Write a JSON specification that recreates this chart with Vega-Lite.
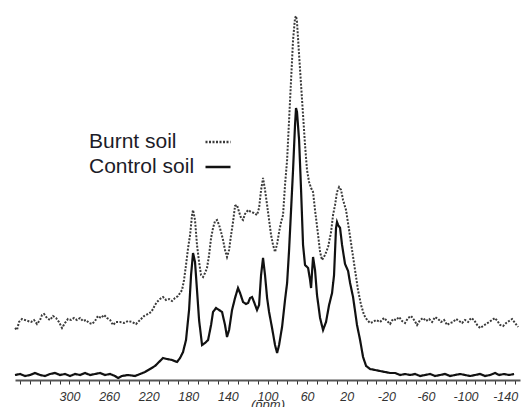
{
 "$schema": "https://vega.github.io/schema/vega-lite/v6.json",
 "width": 505,
 "height": 375,
 "autosize": {"type": "none"},
 "padding": {"left": 15, "top": 5, "right": 11, "bottom": 27},
 "config": {"view": {"stroke": null}, "font": "Liberation Sans"},
 "datasets": {
  "control": [
   [355.0,5],[350.0,6],[344.9,4],[339.8,5],[334.8,7],[329.7,5],[324.7,4],[319.6,6],[314.6,7],[309.5,5],[304.5,6],[299.4,4],[294.4,6],[289.3,5],[284.3,7],[279.2,5],[274.2,6],[269.1,7],[264.1,5],[259.0,6],[254.0,4],[250.9,2],[246.9,4],[240.9,5],[233.8,4],[228.7,6],[223.7,8],[218.6,11],[213.6,14],[210.6,17],[205.5,22],[201.5,21],[196.4,20],[191.4,18],[188.3,22],[185.3,28],[182.3,40],[179.2,70],[177.2,105],[175.2,127],[173.2,118],[171.2,90],[169.1,60],[166.1,35],[163.1,37],[160.0,40],[157.0,55],[155.0,68],[152.0,72],[148.9,70],[145.9,68],[142.9,55],[140.9,43],[138.8,50],[135.8,70],[132.8,82],[129.8,92],[127.7,87],[124.7,78],[121.7,76],[119.6,77],[117.6,82],[115.6,83],[113.6,78],[110.6,70],[108.5,75],[106.5,105],[104.5,122],[102.5,105],[100.4,82],[98.4,68],[95.4,52],[92.4,35],[90.3,27],[88.3,35],[85.3,53],[82.3,80],[80.2,97],[78.2,130],[76.2,170],[74.2,210],[72.2,255],[71.2,272],[70.2,268],[68.1,240],[66.1,190],[64.1,135],[62.1,115],[59.0,112],[57.0,100],[56.0,92],[55.0,108],[54.0,123],[52.0,110],[50.0,85],[46.9,62],[43.9,50],[40.9,58],[37.8,75],[34.8,87],[32.8,105],[30.8,152],[29.8,158],[28.7,155],[26.7,152],[24.7,135],[21.7,116],[18.6,109],[16.6,97],[13.6,83],[9.6,55],[6.5,40],[3.5,23],[0.4,14],[-3.6,11],[-8.6,10],[-13.7,9],[-18.7,8],[-23.8,7],[-28.8,7],[-33.9,5],[-38.9,6],[-44.0,5],[-49.0,6],[-54.1,4],[-59.1,5],[-64.2,6],[-69.2,4],[-74.3,5],[-79.3,6],[-84.4,4],[-89.4,5],[-94.5,6],[-99.5,5],[-104.6,4],[-109.6,5],[-114.7,6],[-119.7,4],[-124.8,5],[-129.8,7],[-133.9,5],[-138.9,6],[-144.0,5],[-149.0,6]
  ],
  "burnt": [
   [355.0,52],[353.0,50],[351.0,58],[347.9,61],[344.9,60],[341.9,59],[338.8,58],[335.8,60],[332.8,56],[329.7,60],[327.7,65],[325.7,66],[322.7,62],[319.6,60],[316.6,64],[313.6,62],[310.6,58],[307.5,52],[304.5,57],[301.5,61],[298.4,60],[295.4,62],[292.4,60],[289.3,62],[286.3,59],[283.3,60],[280.2,57],[277.2,56],[274.2,59],[271.2,64],[268.1,62],[265.1,65],[262.1,62],[259.0,60],[256.0,55],[253.0,58],[248.9,58],[244.9,57],[240.9,59],[236.8,58],[232.8,56],[228.7,60],[224.7,64],[220.7,66],[217.6,68],[215.6,71],[213.6,75],[211.6,78],[208.5,81],[205.5,83],[202.5,80],[199.4,81],[196.4,79],[193.4,82],[190.4,84],[188.3,87],[186.3,90],[184.3,100],[182.3,115],[180.2,132],[178.2,145],[176.2,165],[175.2,170],[173.2,160],[171.2,135],[169.1,118],[167.1,105],[165.1,103],[163.1,107],[161.1,112],[159.0,125],[157.0,142],[155.0,152],[153.0,159],[151.0,160],[148.9,155],[146.9,148],[144.9,140],[142.9,130],[140.9,123],[138.8,130],[136.8,145],[134.8,158],[132.8,174],[130.8,175],[128.7,168],[126.7,162],[124.7,160],[122.7,166],[119.6,170],[116.6,168],[113.6,167],[110.6,165],[108.5,172],[106.5,190],[104.5,202],[102.5,190],[100.4,175],[98.4,160],[96.4,145],[94.4,135],[92.4,128],[90.3,136],[88.3,148],[86.3,158],[84.3,165],[82.3,195],[80.2,220],[78.2,260],[76.2,300],[74.2,340],[72.2,362],[71.2,364],[70.2,358],[68.1,325],[66.1,295],[64.1,265],[62.1,235],[60.1,210],[58.0,198],[56.0,192],[54.0,188],[52.0,170],[48.9,145],[46.9,128],[44.9,120],[41.9,125],[38.8,133],[35.8,148],[33.8,165],[31.8,175],[29.8,188],[27.7,193],[25.7,190],[23.7,180],[20.7,170],[17.6,150],[14.6,130],[11.6,110],[8.6,90],[5.5,75],[2.5,65],[-0.6,60],[-3.6,57],[-6.6,58],[-9.6,60],[-13.7,58],[-17.7,62],[-20.8,59],[-23.8,56],[-26.8,61],[-29.8,60],[-32.9,63],[-35.9,59],[-38.9,57],[-42.0,62],[-45.0,64],[-48.0,60],[-51.0,55],[-54.1,60],[-57.1,62],[-60.1,59],[-63.2,61],[-66.2,58],[-69.2,63],[-72.3,61],[-75.3,58],[-78.3,60],[-81.4,55],[-84.4,57],[-87.4,58],[-90.5,61],[-93.5,59],[-96.5,57],[-99.5,60],[-102.6,58],[-105.6,62],[-108.6,60],[-111.7,55],[-114.7,52],[-117.7,54],[-120.8,56],[-123.8,58],[-126.8,60],[-129.8,62],[-132.9,58],[-134.9,55],[-137.9,54],[-141.0,57],[-144.0,59],[-147.0,61],[-150.0,57],[-153.1,53]
  ]
 },
 "layer": [
  {
   "data": {"name": "burnt"},
   "transform": [
    {"calculate": "datum[0]", "as": "ppm"},
    {"calculate": "datum[1]", "as": "intensity"},
    {"calculate": "'Burnt soil'", "as": "sample"}
   ],
   "mark": {"type": "line", "strokeWidth": 2},
   "encoding": {
    "x": {"field": "ppm", "type": "quantitative"},
    "y": {"field": "intensity", "type": "quantitative"},
    "color": {"field": "sample", "type": "nominal"},
    "strokeDash": {"field": "sample", "type": "nominal"}
   }
  },
  {
   "data": {"name": "control"},
   "transform": [
    {"calculate": "datum[0]", "as": "ppm"},
    {"calculate": "datum[1]", "as": "intensity"},
    {"calculate": "'Control soil'", "as": "sample"}
   ],
   "mark": {"type": "line", "strokeWidth": 2.2},
   "encoding": {
    "x": {"field": "ppm", "type": "quantitative"},
    "y": {"field": "intensity", "type": "quantitative"},
    "color": {"field": "sample", "type": "nominal"},
    "strokeDash": {"field": "sample", "type": "nominal"}
   }
  }
 ],
 "encoding": {
  "x": {
   "field": "ppm", "type": "quantitative",
   "scale": {"domain": [-155, 355], "reverse": true, "nice": false, "zero": false},
   "axis": {
    "values": [350,340,330,320,310,300,290,280,270,260,250,240,230,220,210,200,190,180,170,160,150,140,130,120,110,100,90,80,70,60,50,40,30,20,10,0,-10,-20,-30,-40,-50,-60,-70,-80,-90,-100,-110,-120,-130,-140,-150],
    "labelExpr": "datum.value <= 300 && (datum.value + 180) % 40 == 0 ? '' + datum.value : ''",
    "labelOverlap": false,
    "labelFlush": false,
    "grid": false,
    "tickSize": 4,
    "tickColor": "#333333",
    "tickWidth": 1,
    "domainColor": "#555555",
    "domainWidth": 2,
    "labelFont": "Liberation Sans",
    "labelFontStyle": "italic",
    "labelFontSize": 12.5,
    "labelColor": "#333333",
    "labelPadding": 6,
    "title": "(ppm)",
    "titleFont": "Liberation Sans",
    "titleFontStyle": "italic",
    "titleFontWeight": "normal",
    "titleFontSize": 13,
    "titleColor": "#333333",
    "titlePadding": -4
   }
  },
  "y": {"field": "intensity", "type": "quantitative", "scale": {"domain": [0, 375]}, "axis": null},
  "color": {
   "field": "sample", "type": "nominal",
   "scale": {"domain": ["Burnt soil", "Control soil"], "range": ["#3a3a3a", "#111111"]},
   "legend": {"title": null, "orient": "none", "legendX": 189, "legendY": 123, "symbolType": "stroke", "symbolSize": 625, "symbolStrokeWidth": 2.5, "labelFontSize": 21, "labelColor": "#1c1c28", "labelFont": "Liberation Sans", "labelOffset": -143, "labelAlign": "left", "rowPadding": 1, "labelLimit": 300}
  },
  "strokeDash": {
   "field": "sample", "type": "nominal",
   "scale": {"domain": ["Burnt soil", "Control soil"], "range": [[2, 1.5], [1, 0]]},
   "legend": {"title": null, "orient": "none", "legendX": 189, "legendY": 123, "symbolType": "stroke", "symbolSize": 625, "symbolStrokeWidth": 2.5, "labelFontSize": 21, "labelColor": "#1c1c28", "labelFont": "Liberation Sans", "labelOffset": -143, "labelAlign": "left", "rowPadding": 1, "labelLimit": 300}
  }
 }
}
